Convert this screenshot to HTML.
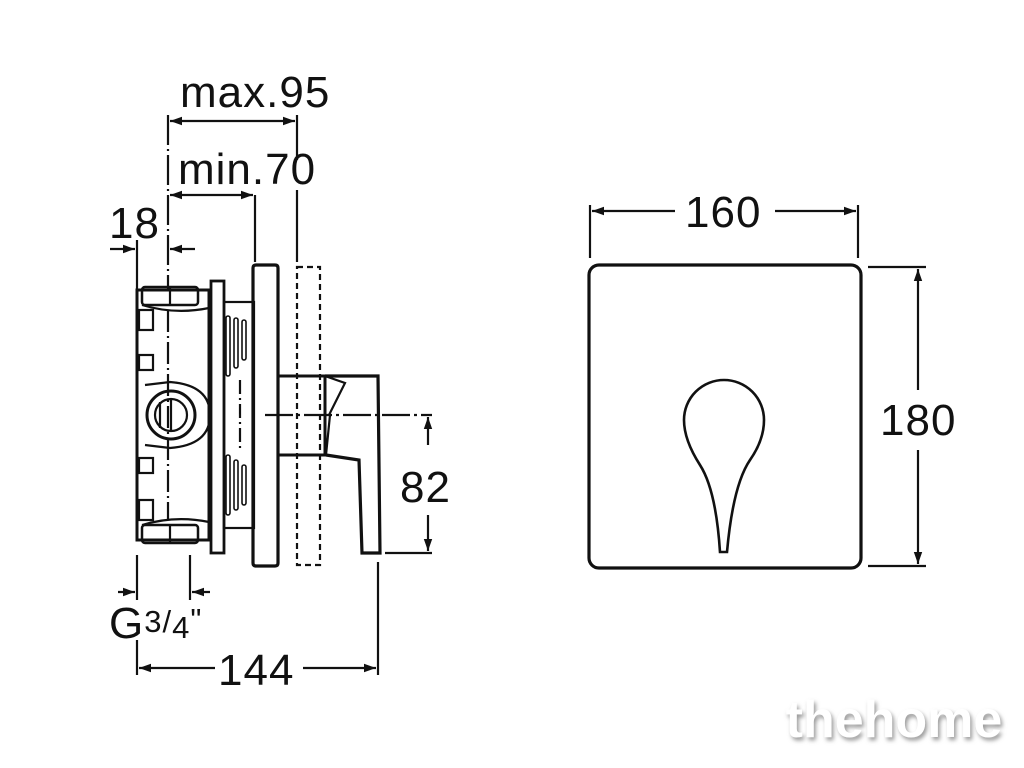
<!DOCTYPE html>
<html><head><meta charset="utf-8"><style>
html,body{margin:0;padding:0;background:#fff;}
svg{display:block;}
text{font-family:"Liberation Sans",sans-serif;fill:#111;}
</style></head><body>
<svg width="1024" height="768" viewBox="0 0 1024 768" xmlns="http://www.w3.org/2000/svg">
<defs>
<marker id="a" viewBox="0 0 10 10" refX="10" refY="5" markerWidth="12" markerHeight="12" orient="auto-start-reverse" markerUnits="userSpaceOnUse"><path d="M0,1.5 L10,5 L0,8.5 Z" fill="#111"/></marker>
<filter id="sh"><feGaussianBlur stdDeviation="2"/></filter>
</defs>
<g stroke="#111" fill="none" stroke-width="2.2">
<line x1="168" y1="115" x2="168" y2="290" stroke-dasharray="30,4,2,4"/>
<line x1="297" y1="115" x2="297" y2="160"/>
<line x1="297" y1="190" x2="297" y2="262"/>
<line x1="255" y1="195" x2="255" y2="262"/>
<line x1="137" y1="240" x2="137" y2="290"/>
<line x1="170" y1="121" x2="295" y2="121" marker-start="url(#a)" marker-end="url(#a)"/>
<line x1="170" y1="195" x2="253" y2="195" marker-start="url(#a)" marker-end="url(#a)"/>
<line x1="110" y1="249" x2="135" y2="249" marker-end="url(#a)"/>
<line x1="195" y1="249" x2="170" y2="249" marker-end="url(#a)"/>
<rect x="137" y="290" width="72" height="250" stroke-width="3"/>
<rect x="142" y="287" width="56" height="18" rx="3" stroke-width="2.5"/>
<line x1="170" y1="287" x2="170" y2="305"/>
<rect x="142" y="525" width="56" height="18" rx="3" stroke-width="2.5"/>
<line x1="170" y1="525" x2="170" y2="543"/>
<path d="M142 305 Q175 315 209 308"/>
<path d="M142 525 Q175 515 209 522"/>
<rect x="139" y="310" width="14" height="20"/><rect x="139" y="355" width="14" height="15"/>
<rect x="139" y="458" width="14" height="15"/><rect x="139" y="500" width="14" height="20"/>
<path d="M145 385 L170 382 Q210 385 210 415 Q210 445 170 448 L145 445"/>
<circle cx="171" cy="415" r="24" stroke-width="3"/>
<circle cx="171" cy="415" r="16"/>
<line x1="160" y1="402" x2="160" y2="428"/><line x1="171" y1="398" x2="171" y2="432"/>
<line x1="168" y1="310" x2="168" y2="520" stroke-dasharray="22,4,2,4"/>
<rect x="211" y="281" width="13" height="272" stroke-width="2.8"/>
<rect x="224" y="302" width="30" height="226" stroke-width="2.2"/>
<g stroke-width="1.6">
<rect x="226" y="316" width="4" height="60" rx="2"/><rect x="234" y="318" width="4" height="50" rx="2"/><rect x="242" y="320" width="4" height="40" rx="2"/>
<rect x="226" y="455" width="4" height="60" rx="2"/><rect x="234" y="460" width="4" height="50" rx="2"/><rect x="242" y="465" width="4" height="40" rx="2"/>
</g>
<line x1="240" y1="380" x2="240" y2="450" stroke-dasharray="14,4,2,4"/>
<path d="M253 268 Q253 265 256 265 L275 265 Q278 265 278 268 L278 563 Q278 566 275 566 L256 566 Q253 566 253 563 Z" stroke-width="3.2"/>
<rect x="297" y="267" width="23" height="298" stroke-dasharray="6,4"/>
<path d="M278 376 L325 376 L325 455 L278 455" stroke-width="3"/>
<path d="M325 376 L344 376 L378 376 L380 553 L362 553 L359 460 L326 455" stroke-width="3.2"/>
<path d="M325 376 L345 383 L329 415" stroke-width="2.2"/>
<line x1="330" y1="415" x2="326" y2="455"/>
<line x1="265" y1="415" x2="432" y2="415" stroke-dasharray="28,4,3,4"/>
<line x1="428" y1="445" x2="428" y2="417" marker-end="url(#a)"/>
<line x1="428" y1="515" x2="428" y2="551" marker-end="url(#a)"/>
<line x1="385" y1="553" x2="432" y2="553"/>
<line x1="137" y1="555" x2="137" y2="600"/>
<line x1="190" y1="555" x2="190" y2="600"/>
<line x1="118" y1="592" x2="135" y2="592" marker-end="url(#a)"/>
<line x1="210" y1="592" x2="192" y2="592" marker-end="url(#a)"/>
<line x1="137" y1="640" x2="137" y2="675"/>
<line x1="378" y1="562" x2="378" y2="675"/>
<line x1="139" y1="668" x2="215" y2="668" marker-start="url(#a)"/>
<line x1="303" y1="668" x2="376" y2="668" marker-end="url(#a)"/>
<rect x="589" y="265" width="272" height="303" rx="10" stroke-width="3.2"/>
<path d="M720 552 Q716 490 700 465 Q684 440 684 420 A40 40 0 1 1 764 420 Q764 440 750 460 Q733 485 727 552 Z" stroke-width="2.6"/>
<line x1="590" y1="205" x2="590" y2="258"/>
<line x1="858" y1="205" x2="858" y2="258"/>
<line x1="592" y1="211" x2="675" y2="211" marker-start="url(#a)"/>
<line x1="775" y1="211" x2="856" y2="211" marker-end="url(#a)"/>
<line x1="868" y1="267" x2="926" y2="267"/>
<line x1="868" y1="566" x2="926" y2="566"/>
<line x1="918" y1="269" x2="918" y2="390" marker-start="url(#a)"/>
<line x1="918" y1="450" x2="918" y2="564" marker-end="url(#a)"/>
</g>
<g font-size="44" letter-spacing="1">
<text x="180" y="107">max.95</text>
<text x="178" y="184">min.70</text>
<text x="109" y="238">18</text>
<text x="400" y="502">82</text>
<text x="218" y="685">144</text>
<text x="685" y="227">160</text>
<text x="880" y="435">180</text>
<text x="109" y="638">G<tspan font-size="31" dy="-6">3</tspan><tspan font-size="31">/</tspan><tspan font-size="31" dy="6">4</tspan><tspan font-size="31" dy="-8">"</tspan></text>
</g>
<text x="896" y="740" font-size="52" font-weight="bold" text-anchor="middle" filter="url(#sh)" style="fill:#999">thehome</text>
<text x="894" y="737" font-size="52" font-weight="bold" text-anchor="middle" style="fill:#fff">thehome</text>
</svg>
</body></html>
